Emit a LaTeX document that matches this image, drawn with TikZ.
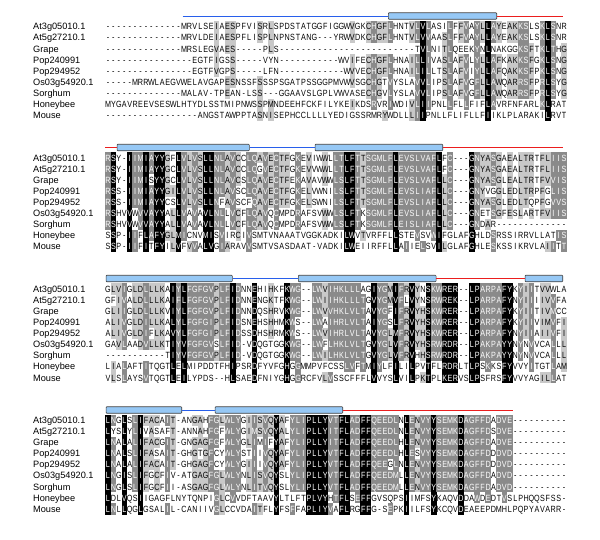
\documentclass[tikz,border=0pt]{standalone}
\usepackage{fontspec}
\setmainfont{Liberation Sans}
\newfontfamily\seqfam[FakeStretch=0.8]{Liberation Sans}
\definecolor{helixblue}{RGB}{150,200,245}
\definecolor{loopblue}{RGB}{40,95,235}
\definecolor{loopred}{RGB}{235,30,30}
\definecolor{darkshade}{RGB}{138,138,138}
\definecolor{lightshade}{RGB}{200,200,200}

% runs of gaps
\ExplSyntaxOn
\cs_new:Npn \gapn #1 { \prg_replicate:nn {#1} { - } }
\ExplSyntaxOff

% similarity groups
\def\setgrp#1#2{\expandafter\def\csname grp#1\endcsname{#2}}
\setgrp Ia \setgrp La \setgrp Va \setgrp Ma
\setgrp Fb \setgrp Yb \setgrp Wb
\setgrp Kc \setgrp Rc \setgrp Hc
\setgrp Dd \setgrp Ed \setgrp Ne \setgrp Qe \setgrp Sf \setgrp Tf

% split one row into residues
\newcount\colcnt
\def\splitloop#1{%
  \ifx#1\relax\else
    \global\advance\colcnt by 1
    \expandafter\xdef\csname s\curblk-\the\colcnt\endcsname{#1}%
    \expandafter\xdef\csname t\curblk-\the\colcnt\endcsname{\ifcsname grp#1\endcsname\csname grp#1\endcsname\else#1\fi}%
    \expandafter\splitloop
  \fi}
\newcommand{\seqrow}[3]{\def\curblk{#1-#2}\global\colcnt=0 \edef\seqtmp{#3}\expandafter\splitloop\seqtmp\relax}

% how many rows share the group of a residue
\newcount\matchcnt
\newcount\rowidx
\newcommand{\countmatch}[3]{%
  \global\matchcnt=0
  \edef\refch{\csname t#1-#2-#3\endcsname}%
  \rowidx=1
  \loop
    \edef\othch{\csname t#1-\the\rowidx-#3\endcsname}%
    \ifx\refch\othch\global\advance\matchcnt by 1 \fi
    \advance\rowidx by 1
  \ifnum\rowidx<10 \repeat
  \if-\refch\global\matchcnt=0 \fi}

% block 1
\seqrow{1}{1}{\gapn{14}MRVLSEIAESPFVISRLSPDSTATGGFIGGWVGKCHGFLHNTVLVLASILFFVAYLLAYEAKKSLSKLSNR}
\seqrow{1}{2}{\gapn{14}MRVLDEIAESPFLISPLNPNSTANG\gapn{3}YRWVDKCHGFLHNTVLVVAASLFFVAYLLAYEAKKSLSKLSNR}
\seqrow{1}{3}{\gapn{14}MRSLEGVAES\gapn{5}PLS\gapn{25}TVLNITLQEEKYNLNAKGGKSFTKLTHG}
\seqrow{1}{4}{\gapn{16}EGTFIGSS\gapn{5}VYN\gapn{11}WVIFECHGFLHNAILLIVASLAFVLYLLAFKAKKSFGKLSNG}
\seqrow{1}{5}{\gapn{16}EGTFVGPS\gapn{5}LFN\gapn{12}WVVECHGFLHNAILILLTSLAFVIYLLAFQAKKSFPKLSNG}
\seqrow{1}{6}{\gapn{5}MRRWLAEGVWELAVGAPESNSSFSSSPSGATPSSGGPMVWVSGCHGTVYSLAVVLIPSLAFVGFLLAWQARRSFPRLSYG}
\seqrow{1}{7}{\gapn{14}MALAV-TPEAN-LSS\gapn{3}GGAAVSLGPLVWVASECHGVLYSLAVVLIPSLAFVGFLLAWQARRSFPRLSYG}
\seqrow{1}{8}{MYGAVREEVSESWLHTYDLSSTMIPNWSSPMNDEEHFCKFILYKEIKDSRVRIWDIVLIIPNLLFLLFIFLAVRFNFARLKLRAT}
\seqrow{1}{9}{\gapn{17}ANGSTAWPPTASNISEPHCCLLLLYEDIGSSRMRYWDLLLIIPNLLFLIFLLFIIKLPLARAKILRVT}
% block 2
\seqrow{2}{1}{RSY-IIMIAYYGFLVLVSLLNLAVCCLQAVECTFGKEVIWWLLTLFTTSGMLFLEVSLVAFLFC\gapn{3}GNYASGAEALTRTFLIIS}
\seqrow{2}{2}{RSY-IIMIAYYGCLVLVSLLNLAVCCLQGVECTFGKEVVWWLLTLFTTSGMLFLEVSLVAFLFC\gapn{3}GNYASGAEALTRTFLIIS}
\seqrow{2}{3}{RSY-IIMISYYGCLVLVSLLNLAVCSLQAVECTFEKAVAVWWLSLFTTSGMLFLEVSLVAFLLC\gapn{3}GNYASGLEALTRTFVVIS}
\seqrow{2}{4}{RSS-IIMIAYYGILVLVSLLNLAVSCLQAVECTFGKELVWNILSLFTTSGMLFLEVSLIAFLLC\gapn{3}GNYVGGLEDLTRPFGLIS}
\seqrow{2}{5}{RSS-IIMIAYYCSLVLVSLLNFAVSCFQAVECTFGKELSWNILSLFTTSGMLFLEVSLIAFLLC\gapn{3}GNYASGLEDLTQPFGVVS}
\seqrow{2}{6}{RSHVVWVVAYYALLVAVAVLNLLVCFLQAVQCMPDRAFSVWWLSLFTKSGMLFLEVSLIAFLLC\gapn{3}GNETSGFESLARTFVIIS}
\seqrow{2}{7}{RSHVVWVVAYYALLVAVAVLNLLVCFLQAVQCMPDRAFSVWWLSLFTKSGMLFLEISLIAFLLC\gapn{3}GNDAR\gapn{13}}
\seqrow{2}{8}{SSP-IIFLAFYGLMICNVMISVIRCIVSMTVNAAATVGGKADKILWVTVRFFLLSTEVSVWIFGLAFGHLDSRSSIRRVLLATIS}
\seqrow{2}{9}{SSP-IIFITFYILVFVVALVGIARAVVSMTVSASDAAT-VADKILWEIIRFFLLAIIELSVILGLAFGHLESKSSIKRVLAIITT}
% block 3
\seqrow{3}{1}{GLVIGLDLLLKAIYLFGFGVPLFIDNNEHIHKFKWG\gapn{2}LWVIHKLLLAGIYGMIFRVYNSKWRER\gapn{2}LPARPAFYKYIITVVWLA}
\seqrow{3}{2}{GFIVALDLLLKAIFLFGFGVPLFIDNNENGKTFKWG\gapn{2}LWIIHKLLLTGVYGMVFLVYNSRWREK\gapn{2}LPARPAFYNYIIIIVVFA}
\seqrow{3}{3}{GLIIGLDLLLKVIYLFGFGVPLFIDNNDQSHRVKWG\gapn{2}LWVVHKLVLTAVYGFIFRVYHSKWRER\gapn{2}LPARPAFYKYIITIVMCC}
\seqrow{3}{4}{ALIVGLDILLKALYLFGFGIPLFIDSNEHSHHMKWS\gapn{2}LWAIHRLVLTAIYGSLFRVYHSKWRER\gapn{2}LPARPAFYKYIIVIMVFI}
\seqrow{3}{5}{ALIVGLDIFLKAVYLFGFGIPLFIDSSDHSHRMKWS\gapn{2}LWVIHRLVLTAVYGLMFRVYHSKWRER\gapn{2}LPARPAFYNYIIAIIVFI}
\seqrow{3}{6}{GAVLAADVLLKTIYVFGFGVSLFID-VDQGTGGKWG\gapn{2}LWFLHKLVLTGVYGLVFRVYHSRWRDR\gapn{2}LPAKPAYYNYNVVCALLL}
\seqrow{3}{7}{\gapn{11}TIYVFGFGVPLFID-VDQGTGGKWG\gapn{2}LWILHKLVLTGVYGLVFRVHHSRWRDR\gapn{2}LPAKPAYYNYNVVCALLL}
\seqrow{3}{8}{LIALAFTITQGTLELMIPDDTFHIPSRDFYVFGHGGMMPVFCSSLVFTMIYLFILILPVTFLRDRLTLPSKKSFYVVYITGTLAM}
\seqrow{3}{9}{VLSLAYSVTQGTLEILYPDS--HLSAEDFNIYGHGGRCFVLVSSCFFFLVVYSLVILPKTPLKERVSLPSFRSFYVVYAGILLAT}
% block 4
\seqrow{4}{1}{LNGLSLIFACAIT-ANGAHFGLWLYGIISVQYAFYLIPLLYVTFLADFFQEEDLNLENVYYSEMKDAGFFDADVE\gapn{10}}
\seqrow{4}{2}{LYSLYLIVASAFT-ANNAHFGFWLYGIMSVQYALYLIPLLYITFLADFFQEEDLNLENVYYSEMKDAGFFDSDVE\gapn{10}}
\seqrow{4}{3}{LNALALIFACGIT-GNGAGFGFWLYGLIMIFYAFYLIPLLYITFLADFFQEEDLHLENVYYSEMKDAGFFDADVE\gapn{10}}
\seqrow{4}{4}{LNALSLIFASAIT-GHGTGFCYWLYSTIIVQYAFYLIPLLYVTFLADFFQEEDLHLESVYYSEMKDAGFFDDDVD\gapn{10}}
\seqrow{4}{5}{LNALALIFACAIT-GHGAGFCYWLYGIIIVQYAFYLIPLLYVTFLADFFQEEGLNLENVYYSEMKDAGFFDDDVD\gapn{10}}
\seqrow{4}{6}{LNGISLIFGCFIV-ATGAGFGLWLYNLISVQYSLYLIPLLYVTFLADFFQEEDMLLENVYYSEMKDAGFFDADVD\gapn{10}}
\seqrow{4}{7}{LNGLSLIFGCFII-ASGAGFGLWLYNLITVQYSLYLIPLLYVTFLADFFQEEDMLLENVYYSEMKDAGFFDADVD\gapn{10}}
\seqrow{4}{8}{LDLVQSIIGAGFLNYTQNPIGLCVVDFTAAVYLTLFTPLVYHTFLSEFFGVSQPSIIMFSYKAQVDDAWDEDTVSLPHQQSFSS-}
\seqrow{4}{9}{LNLLQGLGSALIL-CANIIVGLCCVDAITFLYFSFFAPLIYVAFLRGFFG-SEPKIILFSYKCQVDEAEEPDMHLPQPYAVARR-}

\begin{document}
\begin{tikzpicture}[x=1pt, y=-1pt,
  seqname/.style={anchor=base west, inner sep=0pt, font=\fontsize{9.2}{9.2}\selectfont},
  seqch/.style={anchor=base, inner sep=0pt, font=\seqfam\fontsize{9}{9}\selectfont},
  helix/.style={draw=black!75, fill=helixblue, line width=0.6pt, minimum height=6.5pt, inner sep=0pt, rounded corners=0.8pt},
  loopin/.style={draw=loopblue, line width=1pt},
  loopout/.style={draw=loopred, line width=1pt}]
\useasboundingbox (0,0) rectangle (600,539);

% alignment blocks
\foreach \bk/\by in {1/26.5,2/157.7,3/288.9,4/420.1}{
  \foreach \rw/\nm in {1/At3g05010.1,2/At5g27210.1,3/Grape,4/Pop240991,5/Pop294952,6/Os03g54920.1,7/Sorghum,8/Honeybee,9/Mouse}{
    \pgfmathsetmacro\ry{\by+(\rw-1)*11.1}
    \node[seqname] (name\bk-\rw) at (33,\ry+3.3) {\nm};
    \foreach \cl in {1,...,85}{
      \countmatch{\bk}{\rw}{\cl}
      \ifnum\matchcnt>8 \def\cellbg{black}\def\cellfg{white}
      \else\ifnum\matchcnt>6 \def\cellbg{darkshade}\def\cellfg{white}
      \else\ifnum\matchcnt>4 \def\cellbg{lightshade}\def\cellfg{black}
      \else\def\cellbg{white}\def\cellfg{black}\fi\fi\fi
      \pgfmathsetmacro\cx{108+(\cl-1)*5.43}
      \ifnum\matchcnt>4 \fill[fill=\cellbg] (\cx-2.76,\ry-5.6) rectangle (\cx+2.76,\ry+5.6); \fi
      \node[seqch, text=\cellfg] (c\bk-\rw-\cl) at (\cx,\ry+3.3) {\csname s\bk-\rw-\cl\endcsname};
    }
  }
}

% helices and loops
\node[helix, minimum width=108.4pt] (b1h1) at (442.5,16) {};
\coordinate (b1s) at (182.7,16);
\coordinate (b1e) at (563.3,16);
\draw[loopin] (b1s) -- (b1h1.west);
\draw[loopout] (b1h1.east) -- (b1e);

\node[helix, minimum width=132.3pt] (b2h1) at (183.2,147.5) {};
\node[helix, minimum width=127.7pt] (b2h2) at (378.9,147.5) {};
\coordinate (b2s) at (105,147.5);
\coordinate (b2e) at (563.3,147.5);
\draw[loopout] (b2s) -- (b2h1.west);
\draw[loopin] (b2h1.east) -- (b2h2.west);
\draw[loopout] (b2h2.east) -- (b2e);

\node[helix, minimum width=126.3pt] (b3h1) at (169.2,278.5) {};
\node[helix, minimum width=137.7pt] (b3h2) at (367.2,278.5) {};
\node[helix, minimum width=37.7pt] (b3h3) at (543.9,278.5) {};
\draw[loopin] (b3h1.east) -- (b3h2.west);
\draw[loopout] (b3h2.east) -- (b3h3.west);

\node[helix, minimum width=75.7pt] (b4h1) at (143.9,410) {};
\node[helix, minimum width=127.7pt] (b4h2) at (278.9,410) {};
\coordinate (b4e) at (512.7,410);
\draw[loopin] (b4h1.east) -- (b4h2.west);
\draw[loopout] (b4h2.east) -- (b4e);
\end{tikzpicture}
\end{document}
